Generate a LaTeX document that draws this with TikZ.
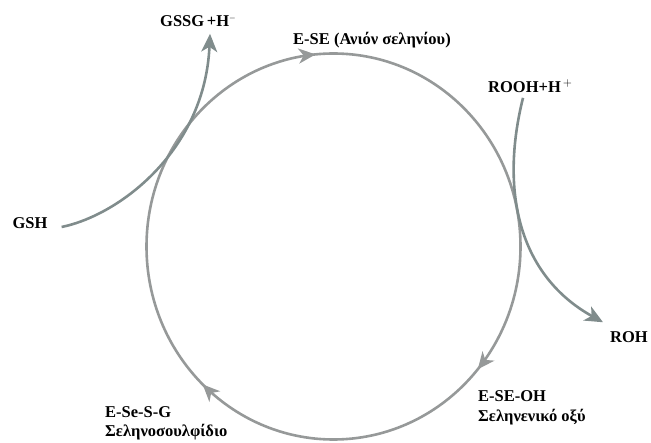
\documentclass[tikz,border=0pt]{standalone}
\usepackage{fontspec}
\setmainfont{Liberation Serif}
\usepackage{xcolor}
\usetikzlibrary{arrows.meta}
\usetikzlibrary{decorations.markings, math}
\definecolor{cyclegray}{RGB}{150,153,153}
\definecolor{sidegray}{RGB}{128,140,140}

\tikzset{
  chem/.style={font=\fontsize{16.5}{19}\selectfont\bfseries, inner sep=0pt},
  loopline/.style={draw=cyclegray, line width=2.6pt},
  sidearrow/.style={draw=sidegray, line width=2.6pt, -{Stealth[length=18pt,width=16pt,inset=5pt]}},
  headmark/.style={decoration={markings,
      mark=at position 0.111 with {\arrow[cyclegray]{Stealth[length=17pt,width=15pt,inset=5pt]}},
      mark=at position 0.372 with {\arrow[cyclegray]{Stealth[length=17pt,width=15pt,inset=5pt]}},
      mark=at position 0.735 with {\arrow[cyclegray]{Stealth[length=17pt,width=15pt,inset=5pt]}}},
    postaction=decorate}
}

\begin{document}
\begin{tikzpicture}[x=1pt,y=-1pt]
\tikzmath{
\cx=333.5; \cy=246.5;
\rx=187; \ry=193;
}
\useasboundingbox (0,0) rectangle (651,443);

% selenium cycle, clockwise
\draw[loopline, headmark] (\cx+\rx,\cy) arc[start angle=0, end angle=360, x radius=\rx, y radius=\ry];

\node[chem] (ese) at (372,40) {E-SE (Ανιόν σεληνίου)};
\node[chem, anchor=west] (eseoh) at (478,396) {E-SE-OH};
\node[chem, anchor=west] (eseohname) at (478,417) {Σεληνενικό οξύ};
\node[chem, anchor=west] (esesg) at (105,412) {E-Se-S-G};
\node[chem, anchor=west] (esesgname) at (105,432) {Σεληνοσουλφίδιο};

% side reactions
\node[chem] (gsh) at (30,223) {GSH};
\node[chem, anchor=west] (gssg) at (160,21) {GSSG\,+H$^{\scriptscriptstyle -}$};
\node[chem, anchor=west] (rooh) at (488,86) {ROOH+H$^{\,+}$};
\node[chem] (roh) at (629,337) {ROH};

\draw[sidearrow] ([xshift=14pt,yshift=-4pt]gsh.east) .. controls (120,215) and (205,150) .. ([xshift=50pt,yshift=-7pt]gssg.south west);
\draw[sidearrow] ([xshift=35pt,yshift=-5pt]rooh.south west) .. controls (500,190) and (518,275) .. ([xshift=-7pt,yshift=9pt]roh.north west);
\end{tikzpicture}
\end{document}
